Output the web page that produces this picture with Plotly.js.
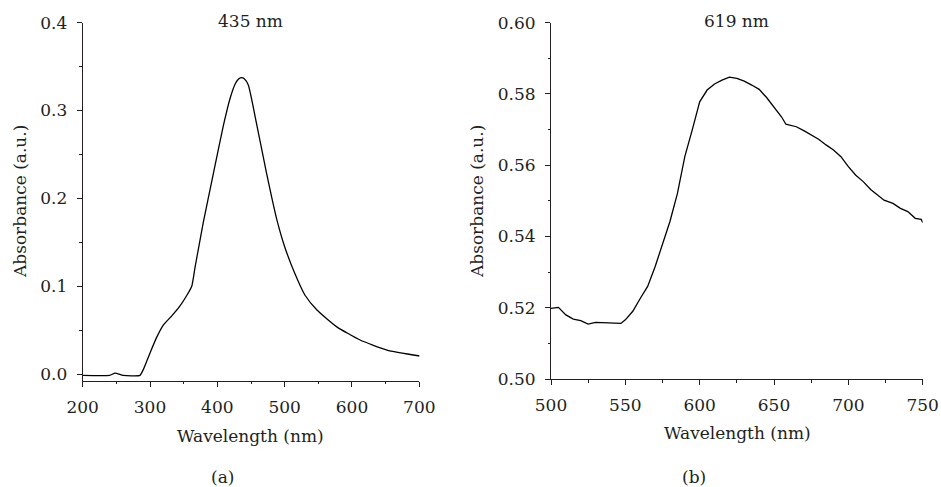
<!DOCTYPE html>
<html>
<head>
<meta charset="utf-8">
<script src="https://cdn.plot.ly/plotly-3.0.1.min.js"></script>
<style>html,body{margin:0;padding:0;background:#fff;}#chart{width:941px;height:487px;}</style>
</head>
<body>
<div id="chart"></div>
<script>
// Panel (a)
const wavelengthA = [200, 240, 248, 260, 275, 285, 290, 300, 310, 320, 332, 344, 355, 362, 367, 379, 394, 409, 419, 427, 432, 436, 440, 446, 458, 473, 488, 500, 515, 530, 548, 577, 612, 652, 701];
const absorbanceA = [-0.0015, -0.0015, 0.001, -0.0015, -0.002, -0.0015, 0.005, 0.024, 0.042, 0.056, 0.066, 0.077, 0.090, 0.100, 0.122, 0.172, 0.228, 0.283, 0.314, 0.331, 0.3362, 0.3375, 0.3362, 0.329, 0.286, 0.229, 0.177, 0.145, 0.1146, 0.090, 0.0729, 0.054, 0.0387, 0.0273, 0.0205];
// Panel (b)
const wavelengthB = [500, 505, 510, 515, 520, 525, 530, 540, 547, 550, 555, 560, 565, 570, 575, 580, 585, 590, 595, 600, 605, 610, 615, 620, 625, 630, 635, 640, 645, 650, 655, 658, 665, 670, 675, 680, 685, 690, 695, 700, 705, 710, 715, 720, 724, 730, 735, 740, 745, 749, 750];
const absorbanceB = [0.5198, 0.5201, 0.5180, 0.5168, 0.5164, 0.5154, 0.5159, 0.5158, 0.5156, 0.5166, 0.5190, 0.5226, 0.5260, 0.5315, 0.5376, 0.5442, 0.5520, 0.5624, 0.5699, 0.5778, 0.5811, 0.5828, 0.5839, 0.5847, 0.5844, 0.5836, 0.5825, 0.5813, 0.5790, 0.5764, 0.5736, 0.5715, 0.5708, 0.5697, 0.5685, 0.5673, 0.5657, 0.5643, 0.5624, 0.5596, 0.5572, 0.5554, 0.5532, 0.5516, 0.5502, 0.5493, 0.5479, 0.5470, 0.5451, 0.5448, 0.5439];
const peakLabels = ["435 nm", "619 nm"];
const panelLabels = ["(a)", "(b)"];
const xTitle = "Wavelength (nm)";
const yTitle = "Absorbance (a.u.)";

const W = 941, H = 487;
const px = v => v / W;
const py = v => 1 - v / H;
const mkFont = () => ({family: "DejaVu Serif, Liberation Serif, serif", size: 17, color: "#231f20"});

const traces = [
  {x: wavelengthA, y: absorbanceA, xaxis: "x", yaxis: "y", mode: "lines", line: {color: "#000", width: 1.3, shape: "spline", smoothing: 0.5}, hoverinfo: "skip"},
  {x: wavelengthB, y: absorbanceB, xaxis: "x2", yaxis: "y2", mode: "lines", line: {color: "#000", width: 1.3}, hoverinfo: "skip"}
];

function axis(extra, minorDtick) {
  return Object.assign({
    showgrid: false, zeroline: false, showline: true, linecolor: "#231f20", linewidth: 1,
    ticks: "outside", ticklen: 5, tickwidth: 1, tickcolor: "#231f20",
    tickfont: mkFont(), ticklabelstandoff: 6,
    minor: {ticks: "outside", ticklen: 2.5, tickwidth: 1, tickcolor: "#231f20", dtick: minorDtick}
  }, extra);
}

function ann(text, x, y, angle) {
  return {text: text, x: px(x), y: py(y), xref: "paper", yref: "paper", showarrow: false,
    xanchor: "center", yanchor: "middle", textangle: angle || 0, font: mkFont()};
}

const layout = {
  width: W, height: H,
  margin: {l: 0, r: 0, t: 0, b: 0},
  paper_bgcolor: "#fff", plot_bgcolor: "#fff",
  showlegend: false,
  font: mkFont(),
  xaxis: axis({domain: [px(82.7), px(419.3)], range: [200, 700], dtick: 100, anchor: "y"}, 50),
  yaxis: axis({domain: [1 - 380.7 / H, 1 - 22.7 / H], range: [-0.0076, 0.4], dtick: 0.1, tickformat: ".1f", anchor: "x"}, 0.05),
  xaxis2: axis({domain: [px(551), px(922.7)], range: [500, 750], dtick: 50, anchor: "y2"}, 25),
  yaxis2: axis({domain: [1 - 379 / H, 1 - 22.7 / H], range: [0.5, 0.6], dtick: 0.02, tickformat: ".2f", anchor: "x2"}, 0.01),
  annotations: [
    ann(peakLabels[0], 250.7, 21),
    ann(peakLabels[1], 736.7, 21),
    ann(xTitle, 250.7, 436),
    ann(xTitle, 737, 433),
    ann(yTitle, 20, 202, -90),
    ann(yTitle, 477, 202, -90),
    ann(panelLabels[0], 222, 477),
    ann(panelLabels[1], 694, 477)
  ]
};

Plotly.newPlot("chart", traces, layout, {staticPlot: true, displayModeBar: false});
</script>
</body>
</html>
